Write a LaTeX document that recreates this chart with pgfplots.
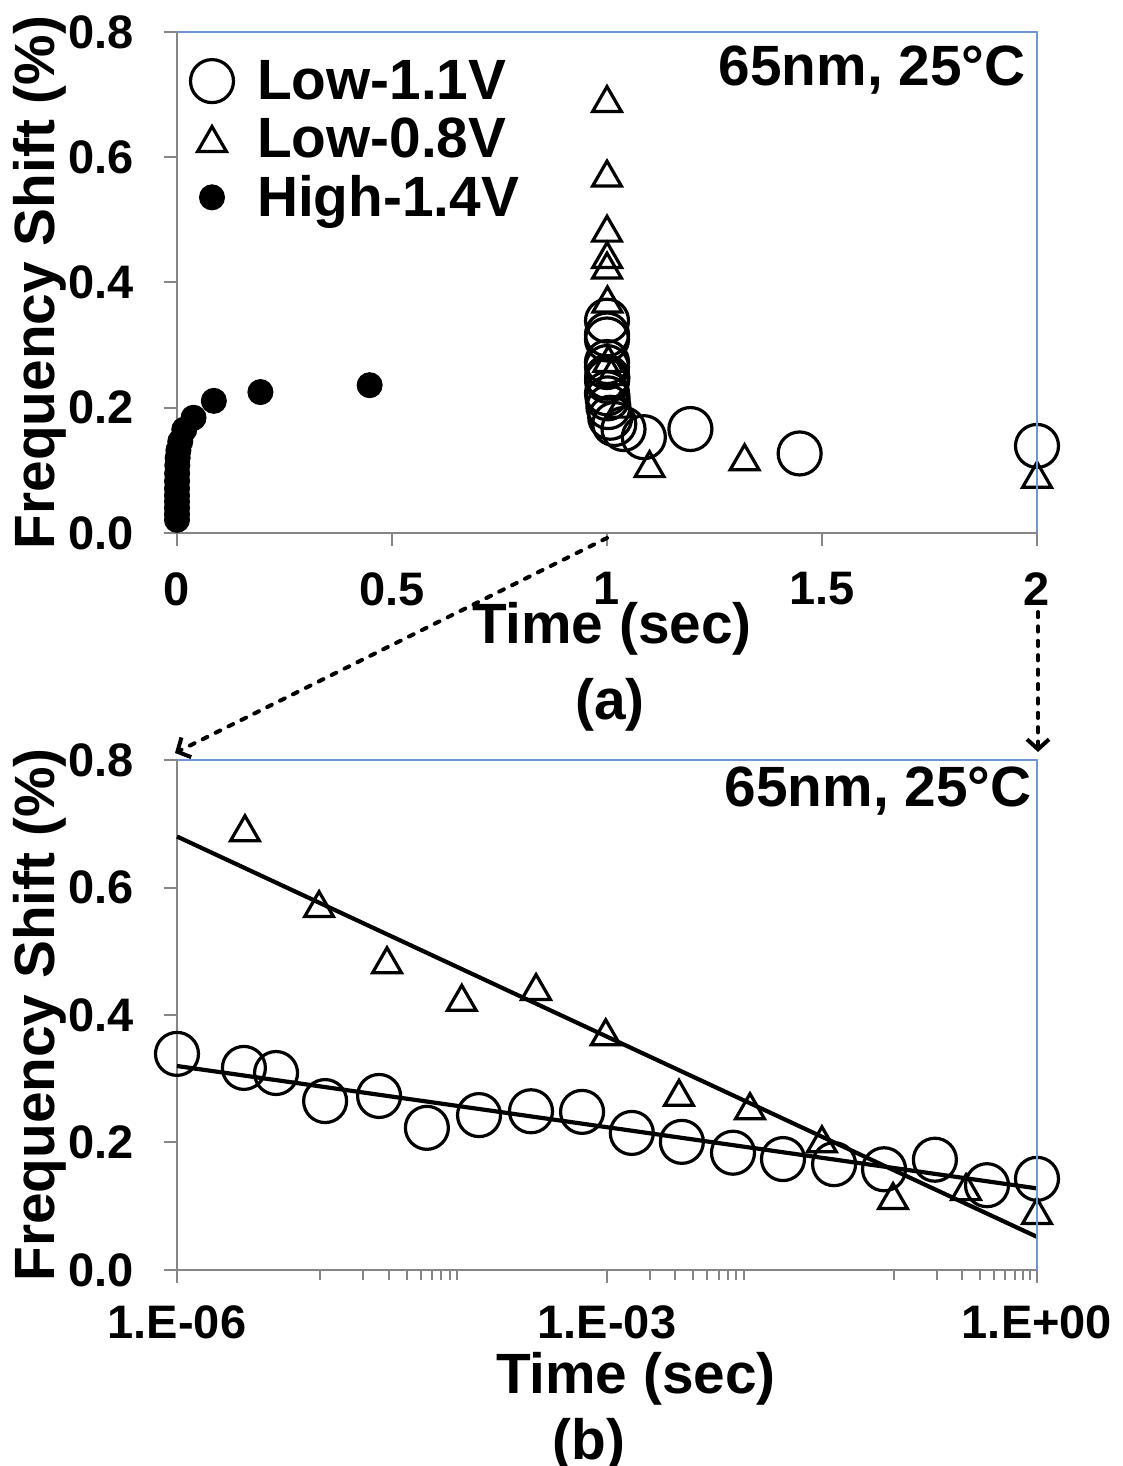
\documentclass[border=0pt]{standalone}
\usepackage{fontspec}
\setmainfont{Liberation Sans}
\usepackage{pgfplots}
\usepackage{pgfplotstable}
\pgfplotsset{compat=1.18}
\usetikzlibrary{arrows.meta}
\definecolor{axgray}{RGB}{134,134,134}
\definecolor{axblue}{RGB}{110,150,210}
\newcommand\bigfont{\bfseries\fontsize{28.4}{30}\selectfont}
\newcommand\tickfont{\bfseries\fontsize{23.5}{24}\selectfont}

% ---- panel (a): linear time ----
\pgfplotstableread{
x y
1.000001 0.339
1.00000293 0.317
1.00000491 0.309
1.0000108 0.265
1.0000257 0.273
1.0000554 0.223
1.000128 0.243
1.000295 0.249
1.00067 0.248
1.00149 0.215
1.00333 0.201
1.00757 0.184
1.0169 0.174
1.0384 0.166
1.0857 0.153
1.194 0.166
1.448 0.127
2.0 0.139
}\circA
\pgfplotstableread{
x y
1.00000298 0.693
1.0000098 0.574
1.0000292 0.486
1.000097 0.427
1.00032 0.444
1.00098 0.373
1.00318 0.278
1.00995 0.257
1.0316 0.205
1.099 0.110
1.32 0.121
2.0 0.093
}\triA
\pgfplotstableread{
x y
0.000001 0.021
0.0000029 0.030
0.0000049 0.040
0.0000108 0.050
0.0000257 0.060
0.0000554 0.071
0.000128 0.083
0.000295 0.095
0.00067 0.108
0.00149 0.120
0.00333 0.132
0.00757 0.146
0.0169 0.165
0.0384 0.184
0.0857 0.211
0.194 0.225
0.448 0.236
}\dotA
% ---- panel (b): log time ----
\pgfplotstableread{
t y
1.0e-6 0.339
2.93e-6 0.317
4.91e-6 0.309
1.08e-5 0.265
2.57e-5 0.273
5.54e-5 0.223
1.28e-4 0.243
2.95e-4 0.249
6.70e-4 0.248
1.49e-3 0.215
3.33e-3 0.201
7.57e-3 0.184
0.0169 0.174
0.0384 0.166
0.0857 0.158
0.194 0.173
0.448 0.133
1.0 0.143
}\circB
\pgfplotstableread{
t y
2.98e-6 0.693
9.8e-6 0.574
2.92e-5 0.486
9.7e-5 0.427
3.2e-4 0.444
9.8e-4 0.373
3.18e-3 0.278
9.95e-3 0.257
0.0316 0.205
0.099 0.116
0.32 0.130
1.0 0.0925
}\triB

\pgfplotsset{
  panel/.style={
    scale only axis, width=430pt,
    axis lines=left,
    axis line style={-, draw=axgray, line width=1pt},
    tick align=outside,
    major tick length=6.5pt, minor tick length=5pt,
    tick style={draw=axgray, line width=1pt},
    tick label style={font=\tickfont, inner sep=0pt},
    ymin=0, ymax=0.8,
    ytick={0,0.2,0.4,0.6,0.8},
    yticklabels={0.0,0.2,0.4,0.6,0.8},
    yticklabel style={xshift=-15pt},
    clip=false,
    label style={font=\bigfont},
    ylabel={Frequency Shift (\%)},
    xlabel={Time (sec)},
    ylabel style={at={(axis description cs:-0.1419,0.5)}, anchor=base},
    after end axis/.code={\draw[axblue, line width=0.8pt] (rel axis cs:0,1) -- (rel axis cs:1,1) -- (rel axis cs:1,0);},
  },
  legimg/.style={legend image code/.code={\path[draw=none,fill=none] (-12pt,-1pt) rectangle (12pt,1pt); \draw[##1] plot coordinates {(0pt,0pt)};}},
  circ/.style={only marks, mark=o, mark size=10.75pt, line width=1.6pt, black, legimg},
  tri/.style={only marks, mark=triangle, mark size=8.3pt, line width=1.6pt, black, mark options={yshift=-2.1pt}, legimg},
  dot/.style={only marks, mark=*, mark size=6.25pt, line width=0.5pt, black, legimg},
}

\begin{document}
\begin{tikzpicture}
\useasboundingbox (0,0) rectangle (561.5pt,733pt);

\begin{axis}[panel, at={(88.5pt,466.5pt)}, anchor=south west, height=250.5pt,
  xmin=0, xmax=2, xtick={0,0.5,1,1.5,2}, xticklabels={0,0.5,1,1.5,2},
  xticklabel style={yshift=-13pt},
  xlabel style={at={(axis description cs:0.5058,-0.2196)}, anchor=base},
  legend style={at={(axis description cs:0.0128,0.9449)}, anchor=north west,
    draw=none, fill=none, inner sep=0pt, outer sep=0pt, font=\bigfont,
    row sep=7.5pt, column sep=10.5pt, nodes={inner sep=0pt}},
  legend cell align=left,
]
\addplot[circ] table[x=x,y=y] {\circA};
\addlegendentry{Low-1.1V}
\addplot[tri] table[x=x,y=y] {\triA};
\addlegendentry{Low-0.8V}
\addplot[dot] table[x=x,y=y] {\dotA};
\addlegendentry{High-1.4V}
\end{axis}

\begin{axis}[panel, at={(88.5pt,98pt)}, anchor=south west, height=255pt,
  xmode=log, xmin=1e-6, xmax=1,
  xtick={1e-6,1e-3,1}, xticklabels={1.E-06,1.E-03,1.E+00},
  minor xtick={1e-5,2e-5,3e-5,4e-5,5e-5,6e-5,7e-5,8e-5,9e-5,2e-3,3e-3,4e-3,5e-3,6e-3,7e-3,8e-3,9e-3,0.1,0.2,0.3,0.4,0.5,0.6,0.7,0.8,0.9},
  xticklabel style={yshift=-11pt},
  xlabel style={at={(axis description cs:0.5337,-0.2412)}, anchor=base},
]
\addplot[circ] table[x=t,y=y] {\circB};
\addplot[tri] table[x=t,y=y] {\triB};
\addplot[black, line width=2.1pt, no marks] coordinates {(1e-6,0.680) (1,0.052)};
\addplot[black, line width=2.1pt, no marks] coordinates {(1e-6,0.320) (1,0.128)};
\end{axis}

\node[anchor=base east, font=\bigfont, inner sep=0pt] at (513pt,690pt) {65nm, 25°C};
\node[anchor=base east, font=\bigfont, inner sep=0pt] at (516pt,329.5pt) {65nm, 25°C};
\node[anchor=base, font=\bigfont] at (305pt,373pt) {(a)};
\node[anchor=base, font=\bigfont] at (294.5pt,3pt) {(b)};

\draw[line width=2pt, line cap=round, dash pattern=on 2.6pt off 4.6pt,
  -{Straight Barb[length=5pt,width=11pt]}] (303.5pt,464pt) -- (87.5pt,356.5pt);
\draw[line width=2pt, line cap=round, dash pattern=on 2.6pt off 4.6pt,
  -{Straight Barb[length=5pt,width=11pt]}] (519pt,427pt) -- (519pt,357pt);
\end{tikzpicture}
\end{document}
